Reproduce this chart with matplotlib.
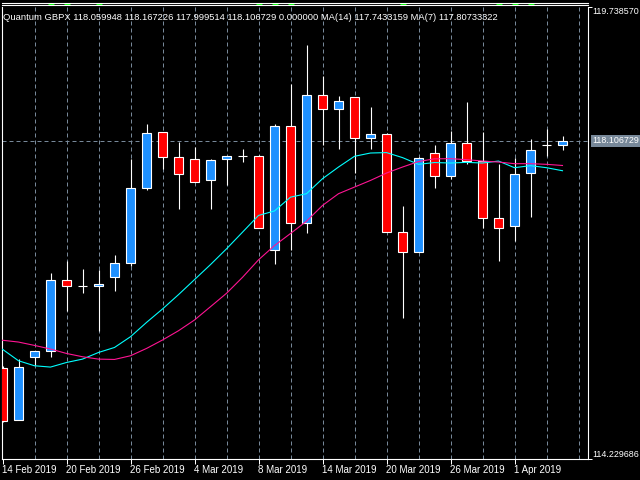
import matplotlib
matplotlib.use("Agg")
import matplotlib.pyplot as plt
from matplotlib.lines import Line2D
import numpy as np

plt.rcParams['font.family'] = ['Liberation Sans', 'DejaVu Sans']

# Tagesbalken, 14 Feb - 4 Apr 2019
days = ['14 Feb', '15 Feb', '18 Feb', '19 Feb', '20 Feb', '21 Feb', '22 Feb', '25 Feb',
        '26 Feb', '27 Feb', '28 Feb', '1 Mar', '4 Mar', '5 Mar', '6 Mar', '7 Mar',
        '8 Mar', '11 Mar', '12 Mar', '13 Mar', '14 Mar', '15 Mar', '18 Mar', '19 Mar',
        '20 Mar', '21 Mar', '22 Mar', '25 Mar', '26 Mar', '27 Mar', '28 Mar', '29 Mar',
        '1 Apr', '2 Apr', '3 Apr', '4 Apr']

opens = [115.341, 114.702, 115.469, 115.545, 116.412, 116.343, 116.339, 116.444,
         116.615, 117.531, 118.212, 117.915, 117.890, 117.629, 117.886, 117.922,
         117.927, 116.779, 118.294, 117.109, 118.672, 118.501, 118.636, 118.147,
         118.196, 116.999, 116.754, 117.964, 117.678, 118.086, 117.866, 117.170,
         117.072, 117.719, 118.057, 118.059948]
highs = [115.366, 115.447, 115.552, 116.502, 116.648, 116.547, 116.535, 116.721,
         117.890, 118.309, 118.218, 118.090, 118.032, 117.890, 117.921, 118.013,
         117.931, 118.309, 118.798, 119.274, 118.899, 118.651, 118.640, 118.517,
         118.199, 117.308, 117.906, 118.053, 118.228, 118.578, 118.212, 117.821,
         117.903, 118.126, 118.257, 118.167226]
lows = [114.682, 114.700, 115.378, 115.476, 116.037, 116.249, 115.785, 116.282,
        116.579, 117.503, 117.760, 117.275, 117.601, 117.275, 117.573, 117.849,
        117.045, 116.608, 116.783, 116.987, 118.053, 118.008, 117.715, 118.008,
        116.996, 115.948, 116.752, 117.531, 117.646, 117.829, 117.048, 116.640,
        116.884, 117.177, 117.922, 117.999514]
closes = [114.694, 115.350, 115.549, 116.412, 116.339, 116.343, 116.367, 116.620,
          117.536, 118.199, 117.910, 117.702, 117.605, 117.878, 117.919, 117.922,
          117.048, 118.294, 117.109, 118.672, 118.501, 118.587, 118.147, 118.196,
          116.999, 116.754, 117.903, 117.678, 118.086, 117.866, 117.170, 117.048,
          117.707, 118.000, 118.057, 118.106729]

ma14 = [115.567, 115.427, 115.366, 115.350, 115.406, 115.447, 115.528, 115.589,
        115.720, 115.894, 116.058, 116.233, 116.416, 116.599, 116.791, 116.994,
        117.198, 117.253, 117.421, 117.463, 117.646, 117.788, 117.919, 117.959,
        117.964, 117.903, 117.821, 117.843, 117.837, 117.845, 117.837, 117.861,
        117.780, 117.805, 117.780, 117.743]
ma7 = [115.677, 115.655, 115.614, 115.570, 115.516, 115.476, 115.447, 115.443,
       115.488, 115.577, 115.680, 115.793, 115.924, 116.086, 116.249, 116.444,
       116.657, 116.831, 116.978, 117.128, 117.320, 117.463, 117.544, 117.625,
       117.715, 117.788, 117.855, 117.888, 117.890, 117.878, 117.861, 117.849,
       117.829, 117.829, 117.821, 117.807]

price_max = 119.738570
price_min = 114.229686
last_price = 118.106729
event_bars = [3, 4, 6, 16, 17, 18, 25, 31, 32, 33]

header = ("Quantum GBPX 118.059948 118.167226 117.999514 118.106729 0.000000 "
          "MA(14) 117.7433159 MA(7) 117.80733322")

BULL = '#1E90FF'
BEAR = '#FF0000'
GRID = '#778899'
PX = 0.72  # 1 Pixel in Punkt

fig = plt.figure(figsize=(6.4, 4.8), dpi=100, facecolor='black')
ax = fig.add_axes([2 / 640, 21 / 480, 586 / 640, 452 / 480], facecolor='black')

x = np.arange(len(opens))
o = np.array(opens)
c = np.array(closes)

ax.set_xlim(-0.5 / 16, 585.5 / 16)
ax.set_ylim(price_min, price_max)

# Raster
for i in range(2, 37, 2):
    ax.axvline(i, color=GRID, lw=PX, ls=(0, (4, 3)), zorder=1)
ax.axhline(last_price, color=GRID, lw=PX, ls=(0, (4, 3)), zorder=1)

# Kerzen
colors = [BULL if cl >= op else BEAR for op, cl in zip(opens, closes)]
ax.vlines(x, lows, highs, color='white', lw=0.8, zorder=2)
ax.bar(x, c - o, bottom=o, width=0.58, color=colors, edgecolor='white',
       linewidth=0.8, zorder=3)

# Gleitende Durchschnitte
ax.plot(x, ma14, color='#00FFFF', lw=0.8, zorder=4)
ax.plot(x, ma7, color='#FF1493', lw=0.8, zorder=4)

# Rahmen
ax.spines['top'].set_visible(False)
for side in ['left', 'bottom', 'right']:
    ax.spines[side].set_color('white')
    ax.spines[side].set_linewidth(0.8)

ax.set_xticks(x[::4])
ax.set_xticklabels([days[i] + ' 2019' for i in x[::4]])
ax.tick_params(axis='x', colors='white', length=3.6, width=PX, pad=0.5, labelsize=7)
for lbl in ax.get_xticklabels():
    lbl.set_ha('left')

ax.yaxis.tick_right()
ax.set_yticks([price_min, price_max])
ax.tick_params(axis='y', colors='white', length=3, width=PX, labelright=False)

ax.annotate(f'{price_max:.6f}', xy=(1, price_max), xycoords=('axes fraction', 'data'),
            xytext=(4, 0), textcoords='offset pixels', va='top', ha='left',
            color='white', fontsize=6.4, annotation_clip=False)
ax.annotate(f'{price_min:.6f}', xy=(1, price_min), xycoords=('axes fraction', 'data'),
            xytext=(4, 0), textcoords='offset pixels', va='bottom', ha='left',
            color='white', fontsize=6.4, annotation_clip=False)
ax.annotate(f'{last_price:.6f}', xy=(1, last_price), xycoords=('axes fraction', 'data'),
            xytext=(4, 0), textcoords='offset pixels', va='center', ha='left',
            color='white', fontsize=6.4, annotation_clip=False,
            bbox=dict(boxstyle='square,pad=0.15', fc=GRID, ec='none'))

ax.annotate(header, xy=(0, 1), xycoords='axes fraction', xytext=(1, -13.5),
            textcoords='offset pixels', va='baseline', ha='left',
            color='white', fontsize=6.75)

# oberer Streifen mit Ereignismarken
for yp in [2.5, 5]:
    fig.add_artist(Line2D([2 / 640, 588 / 640], [1 - yp / 480] * 2, color='white', lw=0.8))
ax.plot(event_bars, [1 + 3.5 / 452] * len(event_bars), transform=ax.get_xaxis_transform(),
        ls='none', marker='_', color='#00FF00', ms=4, clip_on=False)

fig.savefig('out.png', dpi=100, facecolor='black')
